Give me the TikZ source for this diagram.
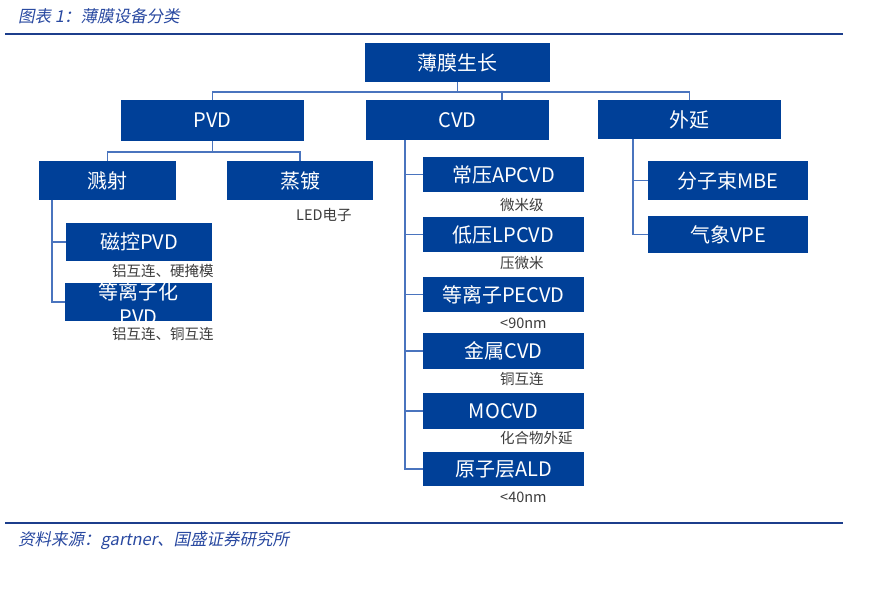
\documentclass[tikz,border=0pt]{standalone}
\usepackage{fontspec,xcolor,tikz}
\setmainfont{Noto Sans CJK SC}
\newfontfamily\capfont[FakeSlant=0.2]{Noto Sans CJK SC}
\definecolor{boxblue}{RGB}{0,64,152}
\definecolor{lineblue}{RGB}{74,116,190}
\definecolor{ruleblue}{RGB}{28,62,140}
\definecolor{capblue}{RGB}{40,72,160}
\definecolor{notegray}{RGB}{60,60,60}

\begin{document}
\begin{tikzpicture}[x=1pt,y=-1pt,
	box/.style={fill=boxblue,text=white,inner sep=0pt,font=\fontsize{20}{24}\selectfont},
	lvl/.style={box,minimum width=183pt,minimum height=40pt},
	sub/.style={box,minimum width=146pt,minimum height=38pt},
	cv/.style={box,minimum width=161pt,minimum height=35pt},
	link/.style={draw=lineblue,line width=1.3pt},
	note/.style={anchor=west,text=notegray,inner sep=0pt,font=\fontsize{14.5}{16}\selectfont},
	rule/.style={draw=ruleblue,line width=1.2pt}]
		\useasboundingbox (0,0) rectangle (879,589);
		% caption and rules
		\node[anchor=west,inner sep=0pt,text=capblue,font=\capfont\fontsize{16.5}{19}\selectfont] (cap) at (18,16) {图表 1：薄膜设备分类};
		\draw[rule] (5,34) -- (843,34);
		\draw[rule] (5,523) -- (843,523);
		\node[anchor=west,inner sep=0pt,text=capblue,font=\capfont\fontsize{16.5}{19}\selectfont] (src) at (18,541) {资料来源：gartner、国盛证券研究所};
		% boxes
		\node[lvl,minimum width=185pt,minimum height=39pt] (top) at (457.5,62.5) {薄膜生长};
		\node[lvl,minimum height=41pt] (pvd) at (212.5,120.5) {PVD};
		\node[lvl] (cvd) at (457.5,120) {CVD};
		\node[lvl,minimum height=39pt] (epi) at (689.5,119.5) {外延};
		\node[sub,minimum width=137pt,minimum height=39pt] (spt) at (107.5,180.5) {溅射};
		\node[sub,minimum height=39pt] (evap) at (300,180.5) {蒸镀};
		\node[sub] (mag) at (139,242) {磁控PVD};
		\node[sub,minimum width=147pt] (ppvd) at (138.5,302) {};
		\begin{scope}
			\clip (ppvd.north west) rectangle (ppvd.south east);
			\node[box,fill=none] (ppvda) at (138.5,292) {等离子化};
			\node[box,fill=none,anchor=base,text depth=0pt] (ppvdb) at (138.5,324) {PVD};
		\end{scope}
		\node[cv] (ap) at (503.5,174.5) {常压APCVD};
		\node[cv] (lp) at (503.5,234.5) {低压LPCVD};
		\node[cv] (pe) at (503.5,294.5) {等离子PECVD};
		\node[cv,minimum height=36pt] (mcvd) at (503.5,351) {金属CVD};
		\node[cv,minimum height=36pt] (mo) at (503.5,411) {MOCVD};
		\node[cv,minimum height=34pt] (ald) at (503.5,469) {原子层ALD};
		\node[cv,minimum width=160pt,minimum height=39pt] (mbe) at (728,180.5) {分子束MBE};
		\node[cv,minimum width=160pt,minimum height=37pt] (vpe) at (728,234.5) {气象VPE};
		% notes
		\node[note] (n1) at (112,271) {铝互连、硬掩模};
		\node[note] (n2) at (112,334) {铝互连、铜互连};
		\node[note] (n3) at (296,215) {LED电子};
		\node[note] (n4) at (500,205) {微米级};
		\node[note] (n5) at (500,263) {压微米};
		\node[note] (n6) at (500,323) {<90nm};
		\node[note] (n7) at (500,379) {铜互连};
		\node[note] (n8) at (500,438) {化合物外延};
		\node[note] (n9) at (500,497) {<40nm};
		% connectors
		\coordinate (busT) at (0,92);
		\coordinate (busP) at (0,152);
		\coordinate (cvdin) at (502,92);
		\coordinate (trS) at (52,0);
		\coordinate (trC) at (405,0);
		\coordinate (trE) at (633,0);
		\draw[link] (top.south) -- (top.south |- busT);
		\draw[link] (pvd.north) -- (pvd.north |- busT) -| (epi.north);
		\draw[link] (cvdin) -- (cvdin |- cvd.north);
		\draw[link] (pvd.south) -- (pvd.south |- busP) -| (spt.north);
		\draw[link] (pvd.south |- busP) -| (evap.north);
		\draw[link] (spt.south -| trS) |- (ppvd.west);
		\draw[link] (mag.west -| trS) -- (mag.west);
		\draw[link] (cvd.south -| trC) |- (ald.west);
		\foreach \n in {ap,lp,pe,mcvd,mo}
			\draw[link] (\n.west -| trC) -- (\n.west);
		\draw[link] (epi.south -| trE) |- (vpe.west);
		\draw[link] (mbe.west -| trE) -- (mbe.west);
	\end{tikzpicture}
\end{document}
